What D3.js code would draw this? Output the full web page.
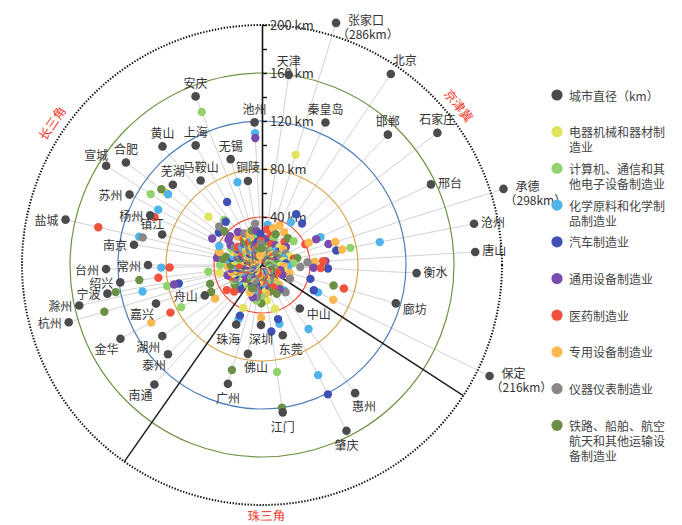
<!DOCTYPE html>
<html>
<head>
<meta charset="utf-8">
<script src="https://cdn.jsdelivr.net/npm/d3@7"></script>
<style>
  body { margin: 0; background: #fff; }
  svg { display: block; }
  text { font-family: "Noto Sans CJK SC", "Noto Sans", sans-serif; }
</style>
</head>
<body>
<div id="chart"></div>
<script>
// series: city diameter first, then the nine industries
const series = ["城市直径（km）", "电器机械和器材制造业", "计算机、通信和其他电子设备制造业",
  "化学原料和化学制品制造业", "汽车制造业", "通用设备制造业", "医药制造业",
  "专用设备制造业", "仪器仪表制造业", "铁路、船舶、航空航天和其他运输设备制造业"];
const legendLines = [["城市直径（km）"], ["电器机械和器材制", "造业"], ["计算机、通信和其", "他电子设备制造业"],
  ["化学原料和化学制", "品制造业"], ["汽车制造业"], ["通用设备制造业"], ["医药制造业"],
  ["专用设备制造业"], ["仪器仪表制造业"], ["铁路、船舶、航空", "航天和其他运输设", "备制造业"]];
const colors = ["#4b4b4d", "#e1e45c", "#93d36e", "#4fb4ea", "#3f51b5", "#7a4cae",
  "#f0523b", "#fbb84f", "#8a8789", "#6b8f46"];

// 京津冀
const jjjCities = ["天津", "张家口", "秦皇岛", "北京", "邯郸", "石家庄", "邢台", "承德", "沧州", "唐山", "衡水", "廊坊", "保定"];
const jjjBearing = [8, 17, 24, 34, 44, 53, 64.5, 72.5, 79, 86.5, 93, 106, 116];
const jjjDiam = [160, 286, 130, 192, 151, 183, 156, 298, 180, 178, 129, 116, 216];
const jjjValues = [
  [12, 18, 34, 8, 22, 30, 15, null, 10],
  [96, null, 14, 20, 9, 26, 32, 6, 17],
  [16, 24, 11, null, 7, 19, 36, 13, 28],
  [9, 14, 43, 51, 20, 5, 33, 11, null],
  [21, 10, 16, 48, 6, 27, 12, null, 31],
  [13, 33, 8, 18, 25, 11, 22, 15, 7],
  [10, 17, 54, 7, 50, 40, 43, 22, 14],
  [24, 6, 19, 12, 58, 9, 64, 16, null],
  [18, 75, 100, 63, 11, 27, 68, 8, 30],
  [7, 26, 14, 20, 53, 51, 44, 38, 12],
  [15, 9, 22, 55, 43, 49, 18, 32, 6],
  [20, 12, 8, 42, 16, 71, 24, 10, 62],
  [11, 7, 52, 48, 19, 14, 66, 26, 9]
];

// 珠三角
const zsjCities = ["中山", "惠州", "肇庆", "东莞", "江门", "深圳", "佛山", "广州", "珠海"];
const zsjBearing = [139, 144, 153, 163.5, 172, 181, 189, 196, 203.5];
const zsjDiam = [48, 132, 155, 61, 124, 50, 75, 103, 54];
const zsjValues = [
  [18, 9, 28, 12, 7, 15, 22, 30, null],
  [10, 20, 66, 14, 25, 8, 17, null, 12],
  [8, 16, 103, 121, 12, 21, 6, 14, 27],
  [38, 14, 51, 47, 9, 20, 11, 6, 23],
  [30, 90, 7, 56, 18, 10, 24, 15, 120],
  [21, 26, 16, 12, 8, 14, 44, 10, 32],
  [9, 30, 12, 19, 6, 23, 15, 27, 11],
  [14, 7, 22, 17, 28, 11, 9, 20, 91],
  [39, 12, 49, 46, 18, 8, 25, 14, 21]
];

// 长三角
const csjCities = ["南通", "泰州", "湖州", "舟山", "金华", "嘉兴", "杭州", "滁州", "宁波", "绍兴", "台州", "常州", "南京", "盐城",
  "镇江", "杨州", "苏州", "宣城", "合肥", "芜湖", "黄山", "马鞍山", "上海", "安庆", "无锡", "铜陵", "池州"];
const csjBearing = [222, 226.5, 234.5, 242, 242.5, 250, 253.5, 257.5, 259.5, 263, 268.5, 270, 279, 283,
  287, 294, 298, 302.5, 307, 312, 320, 324, 331, 338.5, 343.5, 350.5, 357];
const csjDiam = [134, 108, 102, 54, 133, 94, 168, 156, 131, 119, 130, 95, 108, 168,
  87, 102, 125, 154, 142, 100, 129, 87, 114, 151, 92, 71, 119];
const csjValues = [
  [12, 22, 8, 18, 27, 6, 15, 10, null],
  [20, 9, 14, 26, 11, 32, 7, null, 17],
  [8, 15, 24, 11, 19, 36, 48, 13, 28],
  [16, 27, 10, null, 21, 7, 14, 9, 48],
  [22, 76, 13, 8, 17, 86, 104, 25, 11],
  [10, 6, 19, 23, 14, 28, 9, 16, 46],
  [25, 11, 17, 9, 30, 13, 20, 7, 137],
  [7, 81, 102, 71, 75, 10, 26, 12, 22],
  [36, 19, 12, 15, 8, 18, 23, 14, 124],
  [14, 45, 9, 20, 26, 87, 11, 17, 103],
  [18, 24, 84, 10, 13, 77, 29, 21, 15],
  [9, 35, 21, 16, 12, 19, 28, 8, 26],
  [23, 12, 30, 7, 38, 17, 10, 14, 33],
  [11, 20, 105, 26, 9, 140, 16, 102, 31],
  [17, 8, 25, 13, 21, 11, 37, 6, 19],
  [26, 14, 39, 10, 18, 98, 8, 22, 12],
  [8, 29, 98, 20, 47, 12, 24, 16, 10],
  [15, 110, 11, 24, 31, 19, 13, 27, 9],
  [101, 17, 98, 45, 35, 25, 9, 20, 105],
  [60, 10, 22, 14, 36, 7, 18, 48, 42],
  [19, 49, 7, 47, 23, 13, 31, 10, 16],
  [12, 21, 16, 9, 34, 26, 6, 18, 24],
  [27, 9, 14, 60, 11, 22, 17, 30, 8],
  [10, 137, 23, 17, 8, 14, 28, 12, 20],
  [22, 16, 72, 12, 19, 8, 25, 14, 30],
  [8, 24, 13, 20, 29, 16, 10, 35, 12],
  [16, 11, 110, 26, 106, 20, 9, 18, 14]
];

const regionNames = ["京津冀", "珠三角", "长三角"];
const regionLabelBearing = [51, 179, 304];
const dividerBearing = [123, 215];
const ringKm = [40, 80, 120, 160];
const tickKm = [20, 40, 60, 80, 100, 120, 140, 160, 180, 200];

// label placement per city
const labelPos = {
  天津: "t", 张家口: "cap", 秦皇岛: "t", 北京: "tr", 邯郸: "t", 石家庄: "t", 邢台: "r", 承德: "cap",
  沧州: "r", 唐山: "r", 衡水: "r", 廊坊: "rb", 保定: "cap",
  中山: "rb", 惠州: "br", 肇庆: "b", 东莞: "bR", 江门: "b", 深圳: "b", 佛山: "bR", 广州: "b", 珠海: "bL",
  池州: "t", 上海: "t", 无锡: "t", 铜陵: "t", 马鞍山: "t", 芜湖: "t", 黄山: "t", 合肥: "t", 宣城: "tl",
  安庆: "t", 苏州: "l", 杨州: "l", 镇江: "tl", 南京: "l", 盐城: "l", 台州: "l", 常州: "l", 绍兴: "l",
  宁波: "l", 滁州: "l", 舟山: "l", 嘉兴: "bl", 杭州: "l", 金华: "bl", 湖州: "bl", 泰州: "bl", 南通: "bl"
};
const place = {
  t: [0, -14, "middle"], b: [0, 14, "middle"], bR: [8, 13, "middle"], bL: [-8, 14, "middle"],
  r: [7, -2, "start"], rb: [7, 5, "start"], l: [-7, 0, "end"],
  tl: [2, -11, "end"], tr: [2, -15, "start"], bl: [-2, 10, "end"], br: [-3, 12, "start"]
};

const width = 682, height = 525;
const cx = 262, cy = 265;
const cap = 211;

const rows = [];
[[jjjCities, jjjBearing, jjjDiam, jjjValues],
 [zsjCities, zsjBearing, zsjDiam, zsjValues],
 [csjCities, csjBearing, csjDiam, csjValues]].forEach(([names, bearing, diam, vals]) => {
  names.forEach((c, i) => rows.push({city: c, bearing: bearing[i], diam: diam[i], vals: vals[i]}));
});

// one record per industry dot, kept city by city so colours mix in the centre
const points = [];
rows.forEach(d => d.vals.forEach((v, k) => {
  if (v != null) points.push({bearing: d.bearing, km: v, k: k + 1});
}));

const ang = d3.scaleLinear().domain([0, 360]).range([0, 2 * Math.PI]);
const r = d3.scaleLinear().domain([0, 200]).range([0, 240]);
const pt = (deg, km) => d3.pointRadial(ang(deg), r(Math.min(km, cap)));

const svg = d3.select("#chart").append("svg")
  .attr("width", width)
  .attr("height", height)
  .attr("viewBox", [0, 0, width, height]);

const g = svg.append("g").attr("transform", `translate(${cx},${cy})`);

// spokes
g.append("g")
  .attr("stroke", "#c6c6c6")
  .attr("stroke-width", 0.8)
  .selectAll("line")
  .data(rows)
  .join("line")
    .attr("x1", 0).attr("y1", 0)
    .attr("x2", d => pt(d.bearing, d.diam)[0])
    .attr("y2", d => pt(d.bearing, d.diam)[1]);

// rings
const ringColors = ["#ef4f3a", "#d8a54c", "#4e7fba", "#6d9444"];
g.append("g")
  .attr("fill", "none")
  .selectAll("circle")
  .data(ringKm)
  .join("circle")
    .attr("r", d => r(d))
    .attr("stroke", (d, i) => ringColors[i])
    .attr("stroke-width", 1.2);

g.append("circle")
  .attr("r", r(200))
  .attr("fill", "none")
  .attr("stroke", "#111")
  .attr("stroke-width", 2)
  .attr("stroke-dasharray", "1.4 1.6");

// dividers
g.append("g")
  .attr("stroke", "#222")
  .attr("stroke-width", 1.5)
  .selectAll("line")
  .data(dividerBearing)
  .join("line")
    .attr("x2", d => pt(d, 200)[0])
    .attr("y2", d => pt(d, 200)[1]);

// radial axis
const yAxis = d3.scaleLinear().domain([0, 200]).range([0, -r(200)]);
g.append("g")
  .call(d3.axisRight(yAxis)
    .tickValues(tickKm)
    .tickSize(5)
    .tickSizeOuter(0)
    .tickPadding(3)
    .tickFormat(d => d % 40 === 0 ? d + " km" : ""))
  .call(a => a.select(".domain").attr("stroke", "#111").attr("stroke-width", 1.6))
  .call(a => a.selectAll(".tick line").attr("stroke", "#111").attr("stroke-width", 1.4))
  .call(a => a.selectAll(".tick text")
    .attr("fill", "#333")
    .attr("font-size", 13)
    .attr("font-family", "'Liberation Serif', 'DejaVu Serif', serif"));

// industry dots
g.append("g")
  .selectAll("circle")
  .data(points)
  .join("circle")
    .attr("cx", d => pt(d.bearing, d.km)[0])
    .attr("cy", d => pt(d.bearing, d.km)[1])
    .attr("r", 4.2)
    .attr("fill", d => colors[d.k]);

// city diameter dots
g.append("g")
  .attr("fill", colors[0])
  .selectAll("circle")
  .data(rows)
  .join("circle")
    .attr("cx", d => pt(d.bearing, d.diam)[0])
    .attr("cy", d => pt(d.bearing, d.diam)[1])
    .attr("r", 4.3);

// city labels
const labels = g.append("g").attr("font-size", 12).attr("fill", "#333");
rows.forEach(d => {
  const [x, y] = pt(d.bearing, d.diam);
  const code = labelPos[d.city];
  if (code === "cap") {
    labels.append("text").attr("x", x + 12).attr("y", y - 3)
      .attr("dominant-baseline", "central").text(d.city);
    labels.append("text").attr("x", x + 1).attr("y", y + 11)
      .attr("dominant-baseline", "central").text("（" + d.diam + "km）");
  } else {
    const [dx, dy, anchor] = place[code];
    labels.append("text").attr("x", x + dx).attr("y", y + dy)
      .attr("text-anchor", anchor)
      .attr("dominant-baseline", "central").text(d.city);
  }
});

// region names around the rim
g.append("g")
  .selectAll("text")
  .data(regionNames)
  .join("text")
    .attr("transform", (d, i) => {
      const a = regionLabelBearing[i];
      const [x, y] = d3.pointRadial(ang(a), i === 1 ? 250 : 254);
      const rot = a > 90 && a < 270 ? a - 180 : (a >= 270 ? a - 360 : a);
      return `translate(${x},${y}) rotate(${rot})`;
    })
    .attr("text-anchor", "middle")
    .attr("dominant-baseline", "central")
    .attr("font-size", 12.5)
    .attr("fill", "#f0402f")
    .text(d => d);

// legend
const legend = svg.append("g").attr("transform", "translate(557,95)");
const item = legend.selectAll("g")
  .data(legendLines)
  .join("g")
    .attr("transform", (d, i) => `translate(0,${i * 36.7})`);
item.append("circle")
  .attr("r", 5.6)
  .attr("fill", (d, i) => colors[i]);
item.append("text")
  .attr("x", 12)
  .attr("font-size", 12)
  .attr("fill", "#444")
  .selectAll("tspan")
  .data(d => d)
  .join("tspan")
    .attr("x", 12)
    .attr("y", (d, j) => j * 15)
    .attr("dominant-baseline", "central")
    .text(d => d);
</script>
</body>
</html>
